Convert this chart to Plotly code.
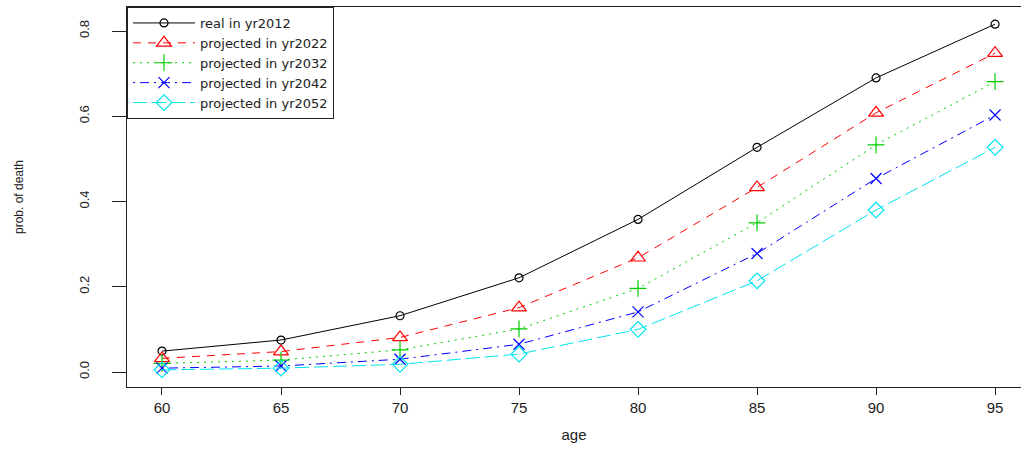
import plotly.graph_objects as go

# Age groups and death probabilities per projection year
ages = [60, 65, 70, 75, 80, 85, 90, 95]
real_2012 = [0.049, 0.075, 0.132, 0.221, 0.358, 0.527, 0.690, 0.816]
proj_2022 = [0.032, 0.048, 0.081, 0.151, 0.268, 0.433, 0.608, 0.748]
proj_2032 = [0.020, 0.028, 0.052, 0.101, 0.196, 0.350, 0.533, 0.681]
proj_2042 = [0.009, 0.014, 0.030, 0.065, 0.141, 0.278, 0.454, 0.603]
proj_2052 = [0.005, 0.009, 0.018, 0.042, 0.100, 0.214, 0.380, 0.527]

series_names = ["real in yr2012", "projected in yr2022", "projected in yr2032",
                "projected in yr2042", "projected in yr2052"]
series_values = [real_2012, proj_2022, proj_2032, proj_2042, proj_2052]

x_ticks = [60, 65, 70, 75, 80, 85, 90, 95]
y_ticks = [0.0, 0.2, 0.4, 0.6, 0.8]
y_tick_labels = ["0.0", "0.2", "0.4", "0.6", "0.8"]

# R-like base palette, line types and plotting symbols
colors = ["black", "#FF0000", "#00CD00", "#0000FF", "#00E5EE"]
dashes = ["solid", "8px,7px", "2px,5px", "2px,5px,9px,5px", "14px,5px"]
symbols = ["circle-open", "triangle-up-open", "cross-thin-open", "x-thin-open", "diamond-open"]
sizes = [8, 13, 12, 11, 12]

fig = go.Figure()
for name, vals, col, dash, sym, sz in zip(series_names, series_values, colors, dashes, symbols, sizes):
    fig.add_trace(go.Scatter(
        x=ages, y=vals, name=name, mode="lines+markers",
        line=dict(color=col, width=1, dash=dash),
        marker=dict(symbol=sym, size=sz, color=col, line=dict(color=col, width=1.2)),
    ))

axis_font = dict(family="Liberation Sans, Arial, sans-serif", color="#222")

fig.update_layout(
    width=1021, height=451,
    margin=dict(l=127, r=0, t=7, b=64),
    plot_bgcolor="white", paper_bgcolor="white",
    showlegend=True,
    legend=dict(
        x=0, y=1, xanchor="left", yanchor="top",
        bgcolor="white", bordercolor="#222", borderwidth=1,
        font=dict(family="DejaVu Sans, sans-serif", size=13, color="#222"),
        itemwidth=62,
        tracegroupgap=0,
    ),
    xaxis=dict(
        range=[58.53, 96.09], tickvals=x_ticks,
        ticks="outside", ticklen=7, tickcolor="#222",
        showline=True, linecolor="#222", linewidth=1, mirror=True,
        showgrid=False, zeroline=False,
        tickfont=dict(size=15, **axis_font),
        title=dict(text="age", font=dict(size=15, **axis_font), standoff=14),
    ),
    yaxis=dict(
        range=[-0.0352, 0.8563], tickvals=y_ticks, ticktext=y_tick_labels,
        tickangle=-90,
        ticks="outside", ticklen=14, tickcolor="#222",
        ticklabelstandoff=18,
        showline=True, linecolor="#222", linewidth=1,
        showgrid=False, zeroline=False,
        tickfont=dict(size=13, **axis_font),
        title=dict(text="prob. of death", font=dict(size=12, **axis_font), standoff=50),
    ),
)

fig.write_html("out.html")
